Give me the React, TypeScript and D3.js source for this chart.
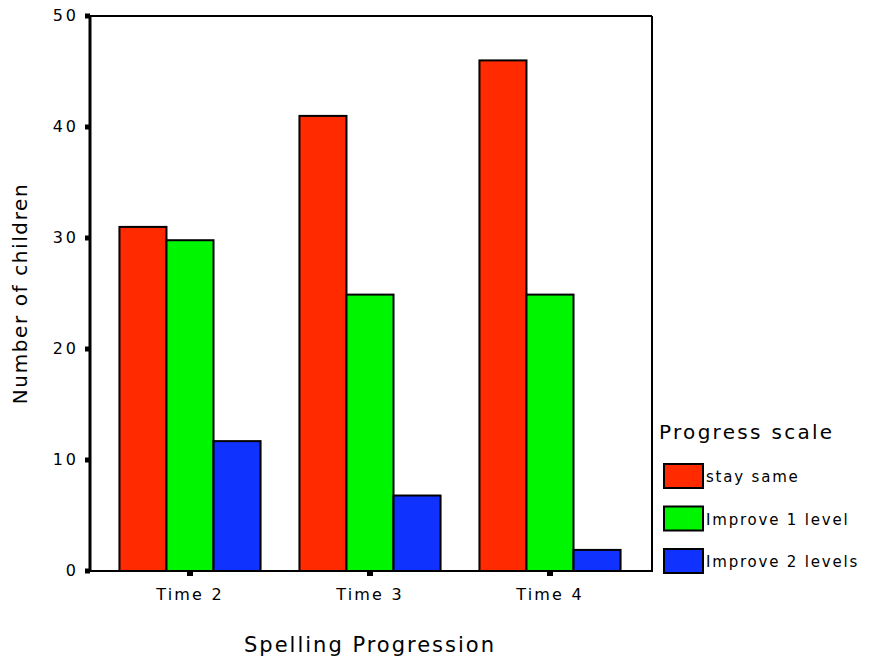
import React from "react";
import * as d3 from "d3";

const categories = ["Time 2", "Time 3", "Time 4"];
const seriesNames = ["stay same", "Improve 1 level", "Improve 2 levels"];
const staySame = [31, 41, 46];
const improve1 = [29.8, 24.9, 24.9];
const improve2 = [11.7, 6.8, 1.9];
const yTicks = [0, 10, 20, 30, 40, 50];
const colors = ["#ff2a00", "#00f500", "#0f32ff"];

const W = 869;
const H = 656;
const left = 90;
const right = 652;
const top = 16;
const bottom = 571;

export default function App() {
  const series = [staySame, improve1, improve2];
  const y = d3.scaleLinear().domain([0, 50]).range([bottom, top]);
  const p = 0.216;
  const x = d3.scaleBand<string>().domain(categories).range([100, 640]).paddingInner(p).paddingOuter(p / 2);
  const inner = d3.scaleBand<string>().domain(seriesNames).range([0, x.bandwidth()]);
  const font = "'DejaVu Sans', Verdana, sans-serif";

  return (
    <svg width={W} height={H} style={{ position: "absolute", left: 0, top: 0, background: "#fff" }} fontFamily={font}>
      {/* bars */}
      {categories.map((c, ci) =>
        series.map((s, si) => {
          const bx = (x(c) as number) + (inner(seriesNames[si]) as number);
          const by = y(s[ci]);
          return (
            <rect
              key={c + si}
              x={bx}
              y={by}
              width={inner.bandwidth()}
              height={bottom - by}
              fill={colors[si]}
              stroke="#000"
              strokeWidth={2}
            />
          );
        })
      )}
      {/* frame */}
      <line x1={left - 2} x2={right} y1={top} y2={top} stroke="#000" strokeWidth={2} />
      <line x1={right} x2={right} y1={top} y2={bottom + 1} stroke="#000" strokeWidth={2} />
      <line x1={left} x2={left} y1={top - 1} y2={bottom + 1} stroke="#000" strokeWidth={3} />
      <line x1={left} x2={right} y1={bottom} y2={bottom} stroke="#000" strokeWidth={2} />
      {/* y ticks */}
      {yTicks.map((t) => (
        <g key={t}>
          <rect x={left - 5} y={y(t) - 2.5} width={5} height={5} fill="#000" />
          <text x={79} y={y(t) + 5} textAnchor="end" fontSize={16} letterSpacing={3}>
            {String(t)}
          </text>
        </g>
      ))}
      {/* x ticks */}
      {categories.map((c) => {
        const cx = (x(c) as number) + x.bandwidth() / 2;
        return (
          <g key={c}>
            <rect x={cx - 3} y={bottom} width={6} height={5} fill="#000" />
            <text x={cx} y={600} textAnchor="middle" fontSize={16} letterSpacing={2.2}>
              {c}
            </text>
          </g>
        );
      })}
      {/* axis titles */}
      <text
        transform={`translate(27, ${(top + bottom) / 2}) rotate(-90)`}
        textAnchor="middle"
        fontSize={20}
        letterSpacing={1.6}
      >
        Number of children
      </text>
      <text x={370} y={652} textAnchor="middle" fontSize={21} letterSpacing={2}>
        Spelling Progression
      </text>
      {/* legend */}
      <text x={659} y={439} fontSize={20} letterSpacing={2.3}>
        Progress scale
      </text>
      {seriesNames.map((n, i) => (
        <g key={n}>
          <rect x={664} y={464 + i * 42.5} width={39} height={24} fill={colors[i]} stroke="#000" strokeWidth={2} />
          <text x={706} y={482 + i * 42.5} fontSize={15} letterSpacing={1.8}>
            {n}
          </text>
        </g>
      ))}
    </svg>
  );
}
